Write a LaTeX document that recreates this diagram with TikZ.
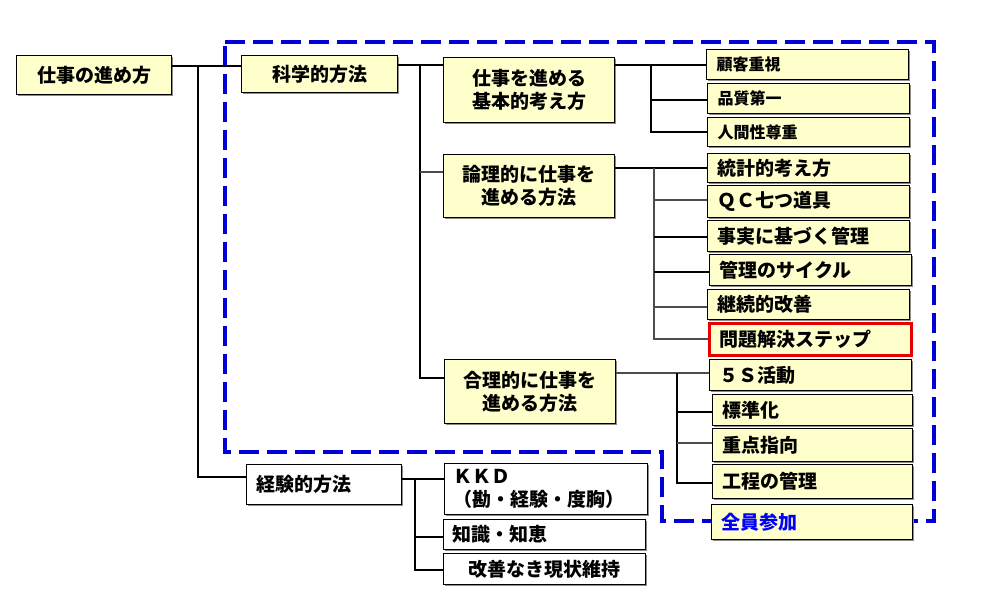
\documentclass[tikz,border=0pt]{standalone}
\usepackage{fontspec}
\setmainfont{Noto Sans CJK JP}
\usetikzlibrary{calc,shadows}

\definecolor{boxyellow}{RGB}{255,255,204}
\definecolor{zoneblue}{RGB}{0,0,215}
\definecolor{textblue}{RGB}{0,0,255}
\definecolor{boxred}{RGB}{230,0,0}

\newcommand{\bigjp}{\bfseries\fontsize{19}{23}\selectfont}
\newcommand{\smalljp}{\bfseries\fontsize{16}{19}\selectfont}

\tikzset{
  box/.style={draw, line width=1.2pt, anchor=north west, inner sep=0pt, font=\bigjp,
    drop shadow={shadow xshift=1.2pt, shadow yshift=-1.2pt, fill=black!45, opacity=1}},
  cbox/.style 2 args={box, fill=boxyellow, minimum width=#1, minimum height=#2, align=center},
  lbox/.style 2 args={box, fill=boxyellow, text width=#1, minimum height=#2, inner xsep=10pt, align=left},
  wbox/.style 2 args={box, fill=white, text width=#1, minimum height=#2, inner xsep=9pt, align=left},
  conn/.style={line width=1.6pt},
  conng/.style={line width=1.2pt, black!70},
  zone/.style={zoneblue, line width=3.2pt, dash pattern=on 20pt off 8pt}
}

\begin{document}
\begin{tikzpicture}[x=1pt,y=-1pt]
\useasboundingbox (0,0) rectangle (994,610);

% dashed area round the scientific method
\draw[zone] (225,42) -- (934,42) -- (934,521) -- (662,521) -- (662,452) -- (225,452) -- cycle;

% left part
\node[cbox={155pt}{39pt}] (shigoto) at (16,55) {仕事の進め方};
\node[cbox={156pt}{37pt}] (kagaku) at (241,55) {科学的方法};
\node[wbox={135pt}{40pt}, inner xsep=10pt] (keiken) at (246,464) {経験的方法};

% middle column
\node[cbox={171pt}{65pt}] (kihon) at (443,57) {仕事を進める\\基本的考え方};
\node[cbox={171pt}{63pt}] (ronri) at (443,154) {論理的に仕事を\\進める方法};
\node[cbox={171pt}{64pt}] (gouri) at (444,359) {合理的に仕事を\\進める方法};

% right column
\node[lbox={182pt}{30pt}, font=\smalljp] (kokyaku) at (706,49) {顧客重視};
\node[lbox={182pt}{30pt}, font=\smalljp] (hinshitsu) at (707,83) {品質第一};
\node[lbox={182pt}{29pt}, font=\smalljp] (ningen) at (707,117) {人間性尊重};
\node[lbox={182pt}{29pt}] (toukei) at (707,153) {統計的考え方};
\node[lbox={182pt}{32pt}] (qc) at (707,185) {ＱＣ七つ道具};
\node[lbox={182pt}{31pt}] (jijitsu) at (707,220) {事実に基づく管理};
\node[lbox={182pt}{31pt}] (kanri) at (709,254) {管理のサイクル};
\node[lbox={182pt}{30pt}] (keizoku) at (707,289) {継続的改善};
\node[lbox={182pt}{32pt}, draw=boxred, line width=3pt] (mondai) at (708,322) {問題解決ステップ};
\node[lbox={182pt}{31pt}] (fives) at (709,359) {５Ｓ活動};
\node[lbox={180pt}{31pt}] (hyoujun) at (712,394) {標準化};
\node[lbox={180pt}{33pt}] (juuten) at (712,428) {重点指向};
\node[lbox={180pt}{34pt}] (koutei) at (712,464) {工程の管理};
\node[lbox={181pt}{35pt}, text=textblue] (zenin) at (711,504) {全員参加};

% experience side
\node[wbox={185pt}{51pt}] (kkd) at (444,463) {ＫＫＤ\\（勘・経験・度胸）};
\node[wbox={184pt}{30pt}] (chishiki) at (443,519) {知識・知恵};
\node[wbox={184pt}{31pt}, align=center] (genjou) at (443,553) {改善なき現状維持};

% root branches
\coordinate (r1) at (198,66);
\coordinate (r2) at (198,477);
\draw[conn] (shigoto.east |- r1) -- (kagaku.west |- r1);
\draw[conn] (r1) -- (r2) -- (keiken.west |- r2);

% scientific method branches
\coordinate (k1) at (420,65);
\coordinate (k2) at (420,172);
\coordinate (k3) at (420,378);
\draw[conn] (kagaku.east |- k1) -- (kihon.west |- k1);
\draw[conn] (k1) -- (k3) -- (gouri.west |- k3);
\draw[conng] (k2) -- (ronri.west |- k2);

% basic way of thinking
\coordinate (a1) at (651,65);
\coordinate (a2) at (651,100);
\coordinate (a3) at (651,132);
\draw[conn] (kihon.east |- a1) -- (kokyaku.west |- a1);
\draw[conn] (a1) -- (a3) -- (ningen.west |- a3);
\draw[conn] (a2) -- (hinshitsu.west |- a2);

% logical way
\coordinate (b1) at (654,168);
\coordinate (b2) at (654,200);
\coordinate (b3) at (654,237);
\coordinate (b4) at (654,272);
\coordinate (b5) at (654,307);
\coordinate (b6) at (654,339);
\draw[conn] (ronri.east |- b1) -- (toukei.west |- b1);
\draw[conng] (b1) -- (b6) -- (mondai.west |- b6);
\draw[conng] (b2) -- (qc.west |- b2);
\draw[conn] (b3) -- (jijitsu.west |- b3);
\draw[conn] (b4) -- (kanri.west |- b4);
\draw[conng] (b5) -- (keizoku.west |- b5);

% rational way
\coordinate (c1) at (677,373);
\coordinate (c2) at (677,412);
\coordinate (c3) at (677,443);
\coordinate (c4) at (677,483);
\draw[conng] (gouri.east |- c1) -- (fives.west |- c1);
\draw[conn] (c1) -- (c4) -- (koutei.west |- c4);
\draw[conn] (c2) -- (hyoujun.west |- c2);
\draw[conng] (c3) -- (juuten.west |- c3);

% experience branches
\coordinate (e1) at (415,479);
\coordinate (e2) at (415,537);
\coordinate (e3) at (415,570);
\draw[conn] (keiken.east |- e1) -- (kkd.west |- e1);
\draw[conn] (e1) -- (e3) -- (genjou.west |- e3);
\draw[conn] (e2) -- (chishiki.west |- e2);
\end{tikzpicture}
\end{document}
